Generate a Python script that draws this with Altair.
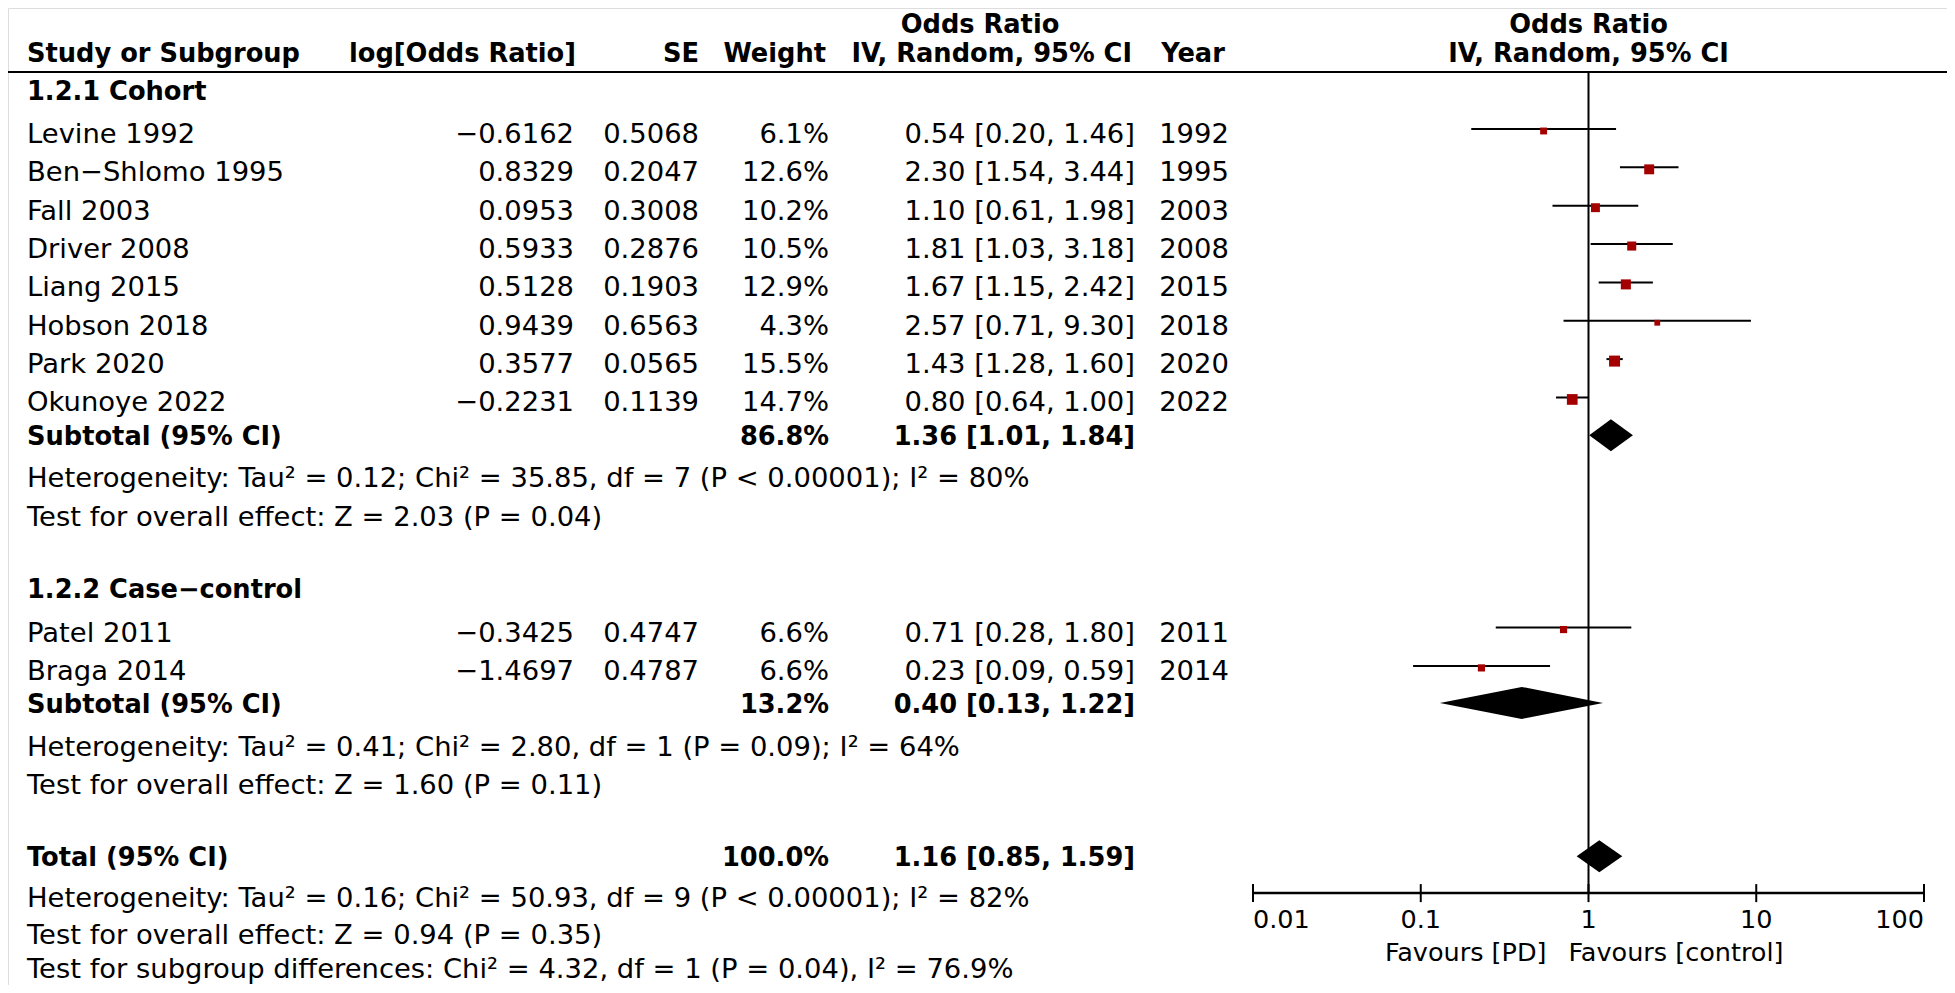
import altair as alt
import pandas as pd

# ---------------- data ----------------
study_names = ["Levine 1992", "Ben−Shlomo 1995", "Fall 2003", "Driver 2008", "Liang 2015",
               "Hobson 2018", "Park 2020", "Okunoye 2022", "Patel 2011", "Braga 2014"]
log_or = ["−0.6162", "0.8329", "0.0953", "0.5933", "0.5128", "0.9439", "0.3577", "−0.2231",
          "−0.3425", "−1.4697"]
se = ["0.5068", "0.2047", "0.3008", "0.2876", "0.1903", "0.6563", "0.0565", "0.1139",
      "0.4747", "0.4787"]
weight = [6.1, 12.6, 10.2, 10.5, 12.9, 4.3, 15.5, 14.7, 6.6, 6.6]
odds = [0.54, 2.30, 1.10, 1.81, 1.67, 2.57, 1.43, 0.80, 0.71, 0.23]
ci_low = [0.20, 1.54, 0.61, 1.03, 1.15, 0.71, 1.28, 0.64, 0.28, 0.09]
ci_high = [1.46, 3.44, 1.98, 3.18, 2.42, 9.30, 1.60, 1.00, 1.80, 0.59]
years = ["1992", "1995", "2003", "2008", "2015", "2018", "2020", "2022", "2011", "2014"]

group_labels = ["1.2.1 Cohort", "1.2.2 Case−control"]
pooled_labels = ["Subtotal (95% CI)", "Subtotal (95% CI)", "Total (95% CI)"]
pooled_weight = [86.8, 13.2, 100.0]
pooled_or = [1.36, 0.40, 1.16]
pooled_low = [1.01, 0.13, 0.85]
pooled_high = [1.84, 1.22, 1.59]

stats_lines = [
    "Heterogeneity: Tau² = 0.12; Chi² = 35.85, df = 7 (P < 0.00001); I² = 80%",
    "Test for overall effect: Z = 2.03 (P = 0.04)",
    "Heterogeneity: Tau² = 0.41; Chi² = 2.80, df = 1 (P = 0.09); I² = 64%",
    "Test for overall effect: Z = 1.60 (P = 0.11)",
    "Heterogeneity: Tau² = 0.16; Chi² = 50.93, df = 9 (P < 0.00001); I² = 82%",
    "Test for overall effect: Z = 0.94 (P = 0.35)",
    "Test for subgroup differences: Chi² = 4.32, df = 1 (P = 0.04), I² = 76.9%",
]
tick_values = [0.01, 0.1, 1, 10, 100]
tick_labels = ["0.01", "0.1", "1", "10", "100"]
favours_left = "Favours [PD]"
favours_right = "Favours [control]"

# ---------------- layout (line units of the table) ----------------
L_TOP, L_HDR, L_RULE = -2.88, -2.12, -1.591
group_lines = [-1.12, 11.86]
study_lines = [0, 1, 2, 3, 4, 5, 6, 7, 13, 14]
pooled_lines = [7.88, 14.86, 18.86]
stats_pos = [8.98, 9.98, 15.98, 16.98, 19.93, 20.88, 21.76]
AXIS_LINE, TICKLAB_LINE, FAV_LINE = 19.82, 20.48, 21.33
DIAMOND_HALF = 0.417
TICK_HALF = 0.235

FONT = "DejaVu Sans"
FS_REG = 27.4
FS_BOLD = 25.7
FS_TICK = 25.5
W, H = 1939, 977

yscale = alt.Scale(domain=[-3.259, 22.216], reverse=True, nice=False, zero=False)
xscale = alt.Scale(type="log", domain=[0.01, 100], range=[1245, 1916], nice=False)

studies = pd.DataFrame({
    "name": study_names, "line": study_lines, "logor": log_or, "se": se,
    "w": weight, "wtxt": [f"{v:.1f}%" for v in weight],
    "ci": [f"{o:.2f} [{l:.2f}, {h:.2f}]" for o, l, h in zip(odds, ci_low, ci_high)],
    "year": years, "or": odds, "lo": ci_low, "hi": ci_high,
})
pooled = pd.DataFrame({
    "name": pooled_labels, "line": pooled_lines,
    "wtxt": [f"{v:.1f}%" for v in pooled_weight],
    "ci": [f"{o:.2f} [{l:.2f}, {h:.2f}]" for o, l, h in zip(pooled_or, pooled_low, pooled_high)],
})
groups = pd.DataFrame({"name": group_labels, "line": group_lines})
stats = pd.DataFrame({"name": stats_lines, "line": stats_pos})


def Y(f="line"):
    return alt.Y(f"{f}:Q", scale=yscale, axis=None)


def X(f):
    return alt.X(f"{f}:Q", scale=xscale, axis=None)


def text_col(df, field, xpx, align, bold=False, size=None):
    return alt.Chart(df).mark_text(
        font=FONT, fontSize=size or (FS_BOLD if bold else FS_REG),
        fontWeight="bold" if bold else "normal",
        align=align, baseline="middle", color="black", dy=2
    ).encode(x=alt.value(xpx), y=Y(), text=f"{field}:N")


layers = []
# headers
headers = [
    ("Odds Ratio", L_TOP, 972, "center"),
    ("Study or Subgroup", L_HDR, 19, "left"),
    ("log[Odds Ratio]", L_HDR, 568, "right"),
    ("SE", L_HDR, 691, "right"),
    ("Weight", L_HDR, 818, "right"),
    ("IV, Random, 95% CI", L_HDR, 1124, "right"),
    ("Year", L_HDR, 1185, "center"),
]
for txt, ln, xpx, al in headers:
    layers.append(text_col(pd.DataFrame({"t": [txt], "line": [ln]}), "t", xpx, al, True))

rh = pd.DataFrame({"t": ["Odds Ratio", "IV, Random, 95% CI"], "line": [L_TOP, L_HDR], "x": [1, 1]})
layers.append(alt.Chart(rh).mark_text(font=FONT, fontSize=FS_BOLD, fontWeight="bold", align="center",
                                      baseline="middle", color="black", dy=2).encode(
    x=X("x"), y=Y(), text="t:N"))

# header rule
layers.append(alt.Chart(pd.DataFrame({"line": [L_RULE]})).mark_rule(color="black", strokeWidth=2).encode(
    x=alt.value(-8), x2=alt.value(1947), y=Y()))

# text columns
layers.append(text_col(groups, "name", 19, "left", True))
layers.append(text_col(studies, "name", 19, "left"))
layers.append(text_col(stats, "name", 19, "left"))
layers.append(text_col(pooled, "name", 19, "left", True))
layers.append(text_col(studies, "logor", 566, "right"))
layers.append(text_col(studies, "se", 691, "right"))
layers.append(text_col(studies, "wtxt", 821, "right"))
layers.append(text_col(pooled, "wtxt", 821, "right", True))
layers.append(text_col(studies, "ci", 1127, "right"))
layers.append(text_col(pooled, "ci", 1127, "right", True))
layers.append(text_col(studies, "year", 1186, "center"))

# forest: null line
null_df = pd.DataFrame({"x": [1], "line": [L_RULE], "line2": [AXIS_LINE]})
layers.append(alt.Chart(null_df).mark_rule(color="black", strokeWidth=2).encode(
    x=X("x"), y=Y(), y2="line2:Q"))

# CI lines and squares
layers.append(alt.Chart(studies).mark_rule(color="black", strokeWidth=2, yOffset=-4).encode(
    x=X("lo"), x2="hi:Q", y=Y()))
layers.append(alt.Chart(studies).mark_square(color="#a50000", filled=True, opacity=1, yOffset=-2).encode(
    x=X("or"), y=Y(),
    size=alt.Size("w:Q", scale=alt.Scale(domain=[0, 15.5], range=[0, 121]), legend=None)))

# diamonds
drows = []
for i, (o, l, h, ln) in enumerate(zip(pooled_or, pooled_low, pooled_high, pooled_lines)):
    drows += [
        {"g": i, "x": l, "y1": ln, "y2": ln},
        {"g": i, "x": o, "y1": ln - DIAMOND_HALF, "y2": ln + DIAMOND_HALF},
        {"g": i, "x": h, "y1": ln, "y2": ln},
    ]
diam = pd.DataFrame(drows)
layers.append(alt.Chart(diam).mark_area(color="black", opacity=1).encode(
    x=X("x"), y=Y("y1"), y2="y2:Q", detail="g:N"))

# axis
axis_df = pd.DataFrame({"x": [tick_values[0]], "x2": [tick_values[-1]], "line": [AXIS_LINE]})
layers.append(alt.Chart(axis_df).mark_rule(color="black", strokeWidth=2.5).encode(
    x=X("x"), x2="x2:Q", y=Y()))
ticks = pd.DataFrame({"x": tick_values, "lab": tick_labels,
                      "a": [AXIS_LINE - TICK_HALF] * 5, "b": [AXIS_LINE + TICK_HALF] * 5,
                      "line": [TICKLAB_LINE] * 5, "i": list(range(5))})
layers.append(alt.Chart(ticks).mark_rule(color="black", strokeWidth=2).encode(
    x=X("x"), y=Y("a"), y2="b:Q"))
for cond, al in [("datum.i == 0", "left"), ("datum.i > 0 && datum.i < 4", "center"), ("datum.i == 4", "right")]:
    layers.append(alt.Chart(ticks).transform_filter(cond).mark_text(
        font=FONT, fontSize=FS_TICK, align=al, baseline="middle", color="black", dy=2).encode(
        x=X("x"), y=Y(), text="lab:N"))

fav = pd.DataFrame({"x": [1], "line": [FAV_LINE], "l": [favours_left], "r": [favours_right]})
layers.append(alt.Chart(fav).mark_text(font=FONT, fontSize=FS_TICK, align="right", baseline="middle",
                                       color="black", dx=-42, dy=2).encode(x=X("x"), y=Y(), text="l:N"))
layers.append(alt.Chart(fav).mark_text(font=FONT, fontSize=FS_TICK, align="left", baseline="middle",
                                       color="black", dx=-20, dy=2).encode(x=X("x"), y=Y(), text="r:N"))

chart = alt.layer(*layers).properties(
    width=W, height=H, padding=0, autosize=alt.AutoSizeParams(type="none")
).configure_view(stroke=None).configure(background="white")

chart.save("out.html", embed_options={"renderer": "svg", "actions": False})
